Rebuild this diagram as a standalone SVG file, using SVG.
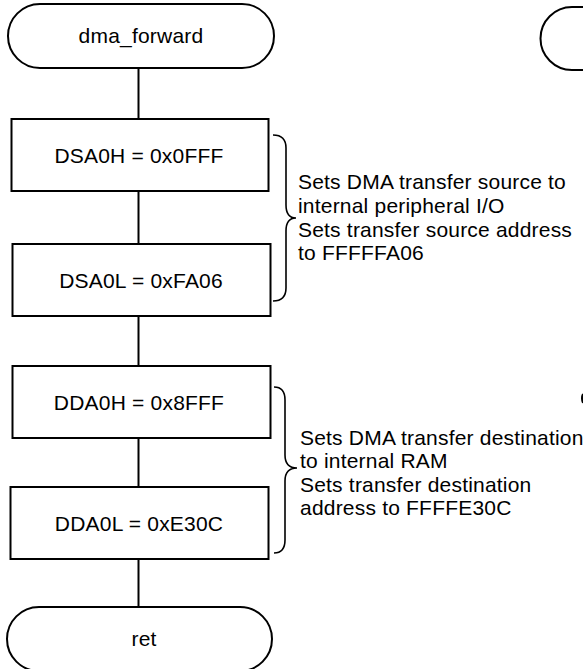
<svg xmlns="http://www.w3.org/2000/svg" width="583" height="669" viewBox="0 0 583 669">
<style>
.shape{fill:#fff;stroke:#000;stroke-width:2}
.line{fill:none;stroke:#000;stroke-width:2}
.brace{fill:none;stroke:#000;stroke-width:1.6}
.t{font-family:"Liberation Sans",Arial,sans-serif;font-size:21px;letter-spacing:0.2px;fill:#000}
.c{text-anchor:middle}
</style>
<rect width="583" height="669" fill="#fff"/>
<g id="connectors">
<line class="line" x1="138.5" y1="68" x2="138.5" y2="119"/>
<line class="line" x1="138.5" y1="191" x2="138.5" y2="244"/>
<line class="line" x1="138.5" y1="316" x2="138.5" y2="366"/>
<line class="line" x1="138.5" y1="438" x2="138.5" y2="487"/>
<line class="line" x1="138.5" y1="559" x2="138.5" y2="607"/>
</g>
<g id="start">
<path class="shape" d="M40,4 H242 A32,32 0 0 1 242,68 H40 A32,32 0 0 1 40,4 Z"/>
<text class="t c" x="141" y="43">dma_forward</text>
</g>
<g id="dsa0h">
<rect class="shape" x="11.5" y="119" width="257" height="72"/>
<text class="t c" x="139" y="163">DSA0H = 0x0FFF</text>
</g>
<g id="dsa0l">
<rect class="shape" x="12.5" y="244" width="258" height="72"/>
<text class="t c" x="141" y="288">DSA0L = 0xFA06</text>
</g>
<g id="dda0h">
<rect class="shape" x="12.5" y="366" width="258" height="72"/>
<text class="t c" x="139" y="410">DDA0H = 0x8FFF</text>
</g>
<g id="dda0l">
<rect class="shape" x="10.5" y="487" width="258" height="72"/>
<text class="t c" x="139" y="531">DDA0L = 0xE30C</text>
</g>
<g id="ret">
<path class="shape" d="M39,607 H240 A32,32 0 0 1 240,671 H39 A32,32 0 0 1 39,607 Z"/>
<text class="t c" x="144" y="646">ret</text>
</g>
<g id="note1">
<path class="brace" d="M273,135 Q286,135 286,148 V205 Q286,218 296,218 Q286,218 286,231 V288 Q286,301 273,301"/>
<text class="t" x="298" y="189">Sets DMA transfer source to</text>
<text class="t" x="298" y="213">internal peripheral I/O</text>
<text class="t" x="298" y="237">Sets transfer source address</text>
<text class="t" x="298" y="260">to FFFFFA06</text>
</g>
<g id="note2">
<path class="brace" d="M274,387 Q285,387 285,400 V455 Q285,468 297,468 Q285,468 285,481 V540 Q285,553 274,553"/>
<text class="t" x="300" y="445">Sets DMA transfer destination</text>
<text class="t" x="300" y="468">to internal RAM</text>
<text class="t" x="300" y="492">Sets transfer destination</text>
<text class="t" x="300" y="515">address to FFFFE30C</text>
</g>
<g id="offscreen1">
<path class="shape" d="M600,7 H572 A31.5,31.5 0 0 0 572,70 H600"/>
</g>
<g id="offscreen2">
<path class="line" d="M583,394 Q581,398 583,403"/>
</g>
</svg>
